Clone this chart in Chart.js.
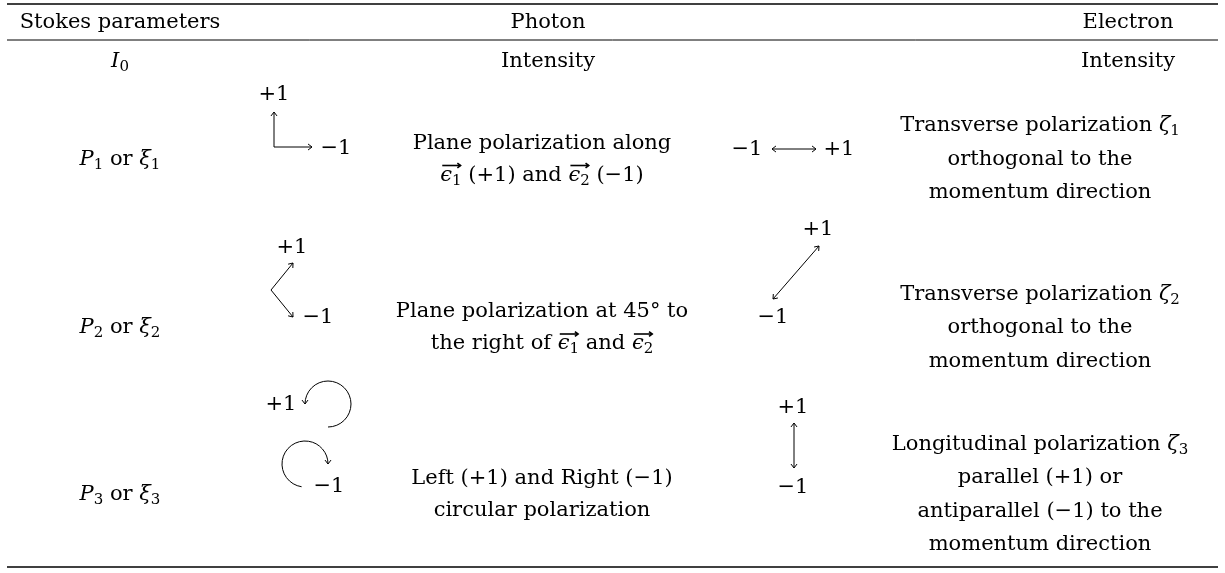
<!DOCTYPE html>
<html>
<head>
<meta charset="utf-8">
<script src="https://cdn.jsdelivr.net/npm/chart.js@4/dist/chart.umd.min.js"></script>
<style>
html, body { margin: 0; padding: 0; background: #fff; }
canvas { display: block; }
</style>
</head>
<body>
<canvas id="tabla" width="1225" height="573"></canvas>
<script>
// contenido de la tabla
const headers = ["Stokes parameters", "Photon", "Electron"];
const intensity = ["$I_0$", "Intensity", "Intensity"];
const params = ["$P_1$ or $ξ_1$", "$P_2$ or $ξ_2$", "$P_3$ or $ξ_3$"];
const photon = [
    ["Plane polarization along", "$@1$ (+1) and $@2$ (−1)"],
    ["Plane polarization at 45° to", "the right of $@1$ and $@2$"],
    ["Left (+1) and Right (−1)", "circular polarization"]
];
const electron = [
    ["Transverse polarization $ζ_1$", "orthogonal to the", "momentum direction"],
    ["Transverse polarization $ζ_2$", "orthogonal to the", "momentum direction"],
    ["Longitudinal polarization $ζ_3$", "parallel (+1) or", "antiparallel (−1) to the", "momentum direction"]
];
const signs = ["+1", "−1"];

// posiciones (unidades de las escalas, 1 = 1px)
const W = 1225, H = 573;
const rules = [4, 40, 567];
const ruleX = [7, 1218];
const headerX = [120, 548, 1128];
const headerY = 28, intensityY = 67;
const labelX = 120, photonX = 542, electronX = 1040;
const rowMid = [164.5, 333, 500];
const photonLead = 32, electronLead = 33.5;

const FONT = '"DejaVu Serif", "Liberation Serif", serif';
const SIZE = 21, SUB = 15;

function fontFor(k) {
    if (k === "it") return "italic " + SIZE + "px " + FONT;
    if (k === "sub") return SUB + "px " + FONT;
    return SIZE + "px " + FONT;
}

// $..$ = modo math, _x = subindice, @x = vector epsilon con subindice
function parse(str) {
    const runs = [];
    let math = false;
    for (let i = 0; i < str.length; i++) {
        const c = str[i];
        if (c === "$") { math = !math; continue; }
        if (math && c === "_") { runs.push({ t: str[++i], k: "sub" }); continue; }
        if (math && c === "@") { runs.push({ t: str[++i], k: "vec" }); continue; }
        const k = math && /[A-Za-zα-ωϵ]/.test(c) ? "it" : "rm";
        const last = runs[runs.length - 1];
        if (last && last.k === k) last.t += c;
        else runs.push({ t: c, k: k });
    }
    return runs;
}

function runWidth(ctx, r) {
    if (r.k === "vec") {
        ctx.font = fontFor("it");
        const w = ctx.measureText("ϵ").width;
        ctx.font = fontFor("sub");
        return w + ctx.measureText(r.t).width;
    }
    ctx.font = fontFor(r.k);
    return ctx.measureText(r.t).width;
}

function line(ctx, x0, y0, x1, y1) {
    ctx.beginPath();
    ctx.moveTo(x0, y0);
    ctx.lineTo(x1, y1);
    ctx.stroke();
}

function head(ctx, x, y, ang, len) {
    len = len || 5;
    ctx.beginPath();
    ctx.moveTo(x - len * Math.cos(ang - 0.65), y - len * Math.sin(ang - 0.65));
    ctx.lineTo(x, y);
    ctx.lineTo(x - len * Math.cos(ang + 0.65), y - len * Math.sin(ang + 0.65));
    ctx.stroke();
}

function arrow(ctx, x0, y0, x1, y1, both) {
    line(ctx, x0, y0, x1, y1);
    const a = Math.atan2(y1 - y0, x1 - x0);
    head(ctx, x1, y1, a);
    if (both) head(ctx, x0, y0, a + Math.PI);
}

function drawRich(ctx, str, x, y, align) {
    const runs = parse(str);
    const widths = runs.map(r => runWidth(ctx, r));
    const total = widths.reduce((a, b) => a + b, 0);
    let cx = align === "left" ? x : x - total / 2;
    ctx.textAlign = "left";
    ctx.textBaseline = "alphabetic";
    runs.forEach((r, i) => {
        if (r.k === "vec") {
            ctx.font = fontFor("it");
            ctx.fillText("ϵ", cx, y);
            const we = ctx.measureText("ϵ").width;
            ctx.font = fontFor("sub");
            ctx.fillText(r.t, cx + we, y + 4);
            const ay = y - 15;
            line(ctx, cx + 2, ay, cx + widths[i] - 1, ay);
            head(ctx, cx + widths[i] - 1, ay, 0, 4);
        } else {
            ctx.font = fontFor(r.k);
            ctx.fillText(r.t, cx, y + (r.k === "sub" ? 4 : 0));
        }
        cx += widths[i];
    });
}

const tablePlugin = {
    id: "tabla",
    beforeDraw(chart) {
        const c = chart.ctx;
        c.save();
        c.fillStyle = "#fff";
        c.fillRect(0, 0, chart.width, chart.height);
        c.restore();
    },
    afterDatasetsDraw(chart) {
        const c = chart.ctx;
        const sx = chart.scales.x, sy = chart.scales.y;
        const px = v => sx.getPixelForValue(v);
        const py = v => sy.getPixelForValue(v);
        c.save();
        c.fillStyle = "#000";
        c.strokeStyle = "#000";

        // reglas
        rules.forEach((r, i) => {
            c.lineWidth = i === 1 ? 1 : 1.6;
            line(c, px(ruleX[0]), py(r), px(ruleX[1]), py(r));
        });

        // encabezados y fila de intensidad
        headers.forEach((h, i) => drawRich(c, h, px(headerX[i]), py(headerY)));
        intensity.forEach((h, i) => drawRich(c, h, px(headerX[i]), py(intensityY)));

        // filas P1..P3
        params.forEach((p, i) => {
            drawRich(c, p, px(labelX), py(rowMid[i]));
            const ph = photon[i];
            ph.forEach((t, j) => {
                const y = rowMid[i] + (j - (ph.length - 1) / 2) * photonLead;
                drawRich(c, t, px(photonX), py(y));
            });
            const el = electron[i];
            el.forEach((t, j) => {
                const y = rowMid[i] + (j - (el.length - 1) / 2) * electronLead;
                drawRich(c, t, px(electronX), py(y));
            });
        });

        // diagramas de signos
        c.lineWidth = 1;
        // foton P1
        drawRich(c, signs[0], px(274), py(100));
        arrow(c, px(274), py(147), px(274), py(112));
        arrow(c, px(274), py(147), px(312), py(147));
        drawRich(c, signs[1], px(336), py(154));
        // foton P2
        drawRich(c, signs[0], px(292), py(253));
        line(c, px(293), py(263), px(271), py(290));
        line(c, px(271), py(290), px(293), py(317));
        head(c, px(293), py(263), Math.atan2(-27, 22));
        head(c, px(293), py(317), Math.atan2(27, 22));
        drawRich(c, signs[1], px(318), py(323));
        // foton P3
        const r = px(23) - px(0);
        drawRich(c, signs[0], px(281), py(410));
        c.beginPath();
        c.arc(px(328), py(404), r, Math.PI / 2, Math.PI, true);
        c.stroke();
        head(c, px(305), py(404), Math.PI / 2);
        c.beginPath();
        c.arc(px(305), py(464), r, 1.72, 2 * Math.PI, false);
        c.stroke();
        head(c, px(328), py(464), Math.PI / 2);
        drawRich(c, signs[1], px(329), py(492));
        // electron P1
        drawRich(c, signs[1], px(747), py(155));
        arrow(c, px(772), py(149), px(816), py(149), true);
        drawRich(c, signs[0], px(839), py(155));
        // electron P2
        drawRich(c, signs[0], px(818), py(235));
        arrow(c, px(773), py(299), px(819), py(246), true);
        drawRich(c, signs[1], px(773), py(323));
        // electron P3
        drawRich(c, signs[0], px(793), py(413));
        arrow(c, px(794), py(468), px(794), py(423), true);
        drawRich(c, signs[1], px(793), py(493));

        c.restore();
    }
};

new Chart(document.getElementById("tabla"), {
    type: "scatter",
    data: { datasets: [] },
    options: {
        responsive: false,
        animation: false,
        devicePixelRatio: 1,
        layout: { padding: 0 },
        scales: {
            x: { type: "linear", min: 0, max: W, display: false },
            y: { type: "linear", min: 0, max: H, reverse: true, display: false }
        },
        plugins: { legend: { display: false }, tooltip: { enabled: false } }
    },
    plugins: [tablePlugin]
});
</script>
</body>
</html>
